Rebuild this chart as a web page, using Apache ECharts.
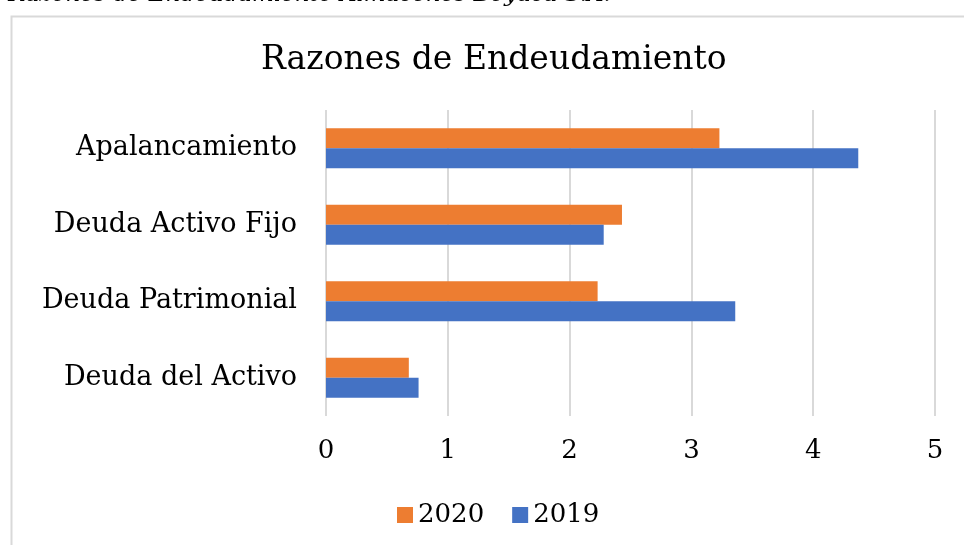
<!DOCTYPE html>
<html>
<head>
<meta charset="utf-8">
<script src="https://cdn.jsdelivr.net/npm/echarts@6/dist/echarts.min.js"></script>
<style>
  html, body { margin: 0; padding: 0; background: #fff; }
  #chart { width: 964px; height: 545px; }
</style>
</head>
<body>
<div id="chart"></div>
<script>
// datos
var categorias = ["Deuda del Activo", "Deuda Patrimonial", "Deuda Activo Fijo", "Apalancamiento"];
var valores2019 = [0.76, 3.36, 2.28, 4.37];
var valores2020 = [0.68, 2.23, 2.43, 3.23];
var ticksX = ["0", "1", "2", "3", "4", "5"];

var fuente = "DejaVu Serif";

var chart = echarts.init(document.getElementById("chart"));
var option = {
  animation: false,
  backgroundColor: "#fff",
  graphic: [
    {
      type: "rect",
      left: 9, top: 14,
      shape: { width: 1000, height: 600 },
      style: { fill: "none", stroke: "#d9d9d9", lineWidth: 2 },
      z: 0
    },
    {
      type: "text",
      left: 8, top: -16,
      style: {
        text: "Razones de Endeudamiento Almacenes Boyacá S.A.",
        font: "italic 23px " + fuente,
        fill: "#000"
      }
    }
  ],
  title: {
    text: "Razones de Endeudamiento",
    left: 256,
    top: 39,
    textStyle: { fontFamily: fuente, fontSize: 33, fontWeight: "normal", color: "#000" }
  },
  legend: {
    data: ["2020", "2019"],
    left: 392,
    top: 497,
    itemWidth: 16,
    itemHeight: 16,
    itemGap: 28,
    icon: "rect",
    textStyle: { fontFamily: fuente, fontSize: 26, color: "#000" }
  },
  grid: { left: 326, right: 29, top: 110, bottom: 129 },
  xAxis: {
    type: "value",
    min: 0, max: 5, interval: 1,
    axisLine: { show: false },
    axisTick: { show: false },
    axisLabel: {
      margin: 22,
      fontFamily: fuente, fontSize: 26, color: "#000",
      formatter: function (v) { return ticksX[v]; }
    },
    splitLine: { show: true, lineStyle: { color: "#d9d9d9", width: 2 } }
  },
  yAxis: {
    type: "category",
    data: categorias,
    axisLine: { show: false },
    axisTick: { show: false },
    axisLabel: { margin: 29, fontFamily: fuente, fontSize: 27, color: "#000" }
  },
  series: [
    {
      name: "2020",
      type: "bar",
      data: valores2020,
      barGap: "0%",
      barCategoryGap: "48%",
      itemStyle: { color: "#ED7D31" }
    },
    {
      name: "2019",
      type: "bar",
      data: valores2019,
      barGap: "0%",
      barCategoryGap: "48%",
      itemStyle: { color: "#4472C4" }
    }
  ]
};
chart.setOption(option);
</script>
</body>
</html>
